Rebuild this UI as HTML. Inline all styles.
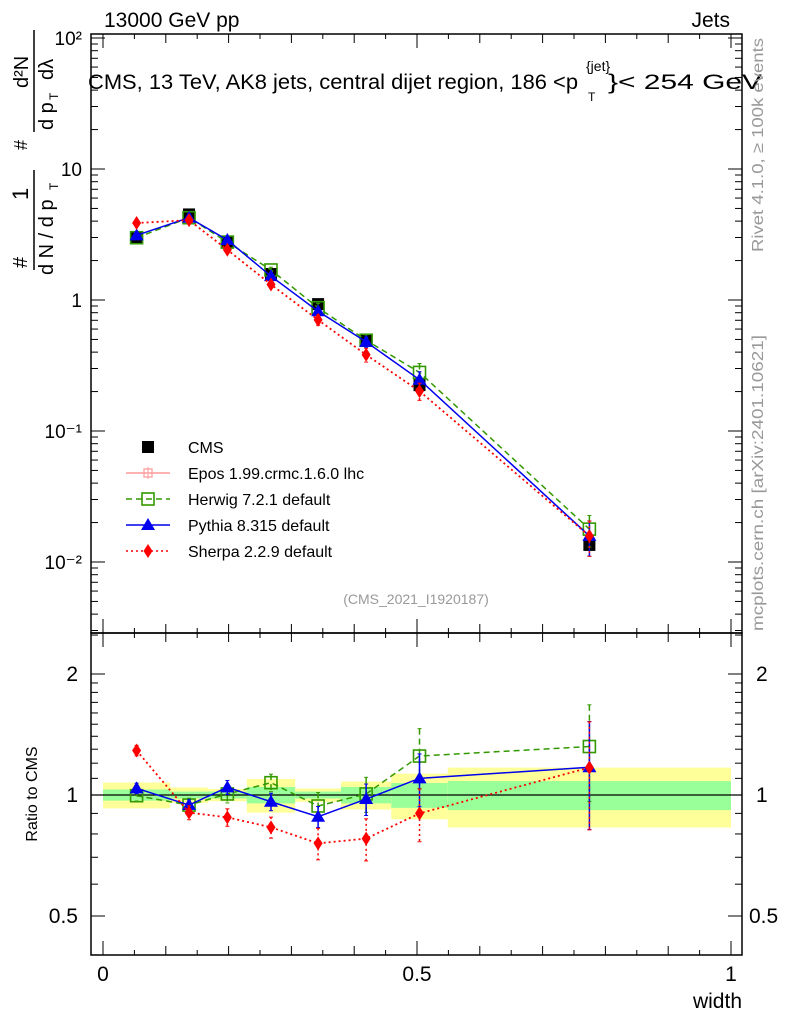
<!DOCTYPE html>
<html><head><meta charset="utf-8"><style>
html,body{margin:0;padding:0;background:#fff;}
svg text{font-family:"Liberation Sans",sans-serif;}
</style></head><body>
<svg id="c" width="786" height="1024" xmlns="http://www.w3.org/2000/svg"></svg>
<script>
const categories=[0.0535,0.137,0.198,0.2675,0.3425,0.419,0.504,0.7745];
const binEdges=[0,0.107,0.167,0.229,0.306,0.379,0.459,0.549,1.0];
const cmsValues=[3.0,4.5,2.75,1.58,0.93,0.49,0.224,0.0135];
const bandTotal=[0.074,0.044,0.035,0.096,0.038,0.080,0.13,0.17];
const bandStat=[0.032,0.02,0.02,0.047,0.02,0.047,0.071,0.083];
const herwigRatio=[0.996,0.944,1.006,1.073,0.939,1.006,1.25,1.32];
const herwigErr=[0.03,0.04,0.05,0.05,0.08,0.10,0.17,0.27];
const pythiaRatio=[1.039,0.944,1.045,0.962,0.883,0.977,1.10,1.172];
const pythiaErr=[0.03,0.03,0.04,0.05,0.06,0.09,0.15,0.3];
const sherpaRatio=[1.29,0.904,0.88,0.831,0.758,0.779,0.90,1.17];
const sherpaErr=[0.03,0.04,0.05,0.06,0.09,0.12,0.15,0.3];
const yTicksMain=["10\u207B\u00B2","10\u207B\u00B9","1","10","10\u00B2"];
const xTickLabels=["0","0.5","1"];

const S=document.getElementById('c');const NS="http://www.w3.org/2000/svg";
function el(t,a,p){const e=document.createElementNS(NS,t);for(const k in a)e.setAttribute(k,a[k]);(p||S).appendChild(e);return e;}
const L=91,R=742,T=34,M=633,B=955;
const xs=v=>103+628*v;
const ym=v=>300-131*Math.log10(v);
const yr=v=>795-121*Math.log2(v);

for(let i=0;i<categories.length;i++){
  const x0=xs(binEdges[i]),x1=xs(binEdges[i+1]);
  let r=el('rect',{x:x0,y:yr(1+bandTotal[i]),width:x1-x0,height:yr(1-bandTotal[i])-yr(1+bandTotal[i]),fill:'#ffff99'});
  
  r=el('rect',{x:x0,y:yr(1+bandStat[i]),width:x1-x0,height:yr(1-bandStat[i])-yr(1+bandStat[i]),fill:'#99ff99'});
  
}
el('line',{x1:L,x2:R,y1:795,y2:795,stroke:'#000','stroke-width':1.3});

let f=el('rect',{x:L,y:T,width:R-L,height:M-T,fill:'none',stroke:'#000','stroke-width':1.5});

f=el('rect',{x:L,y:M,width:R-L,height:B-M,fill:'none',stroke:'#000','stroke-width':1.5});


for(let k=0;k<=20;k++){const v=k*0.05,x=xs(v);const len=(k%10==0)?14:(k%2==0?9:5);
 [[T,1],[M,-1],[M,1],[B,-1]].forEach(([y,d])=>el('line',{x1:x,x2:x,y1:y,y2:y+d*len,stroke:'#000'}));}
xTickLabels.forEach((t,i)=>{const e=el('text',{x:xs(i*0.5),y:981,'font-size':21,'text-anchor':'middle'});e.textContent=t;
 });
let xt=el('text',{x:742,y:1008,'font-size':21,'text-anchor':'end'});xt.textContent='width';


for(let d=-3;d<=2;d++){for(let m=1;m<10;m++){const v=m*Math.pow(10,d),y=ym(v);if(y<T||y>M)continue;const len=m==1?14:7;
 el('line',{x1:L,x2:L+len,y1:y,y2:y,stroke:'#000'});el('line',{x1:R,x2:R-len,y1:y,y2:y,stroke:'#000'});}}
yTicksMain.forEach((t,i)=>{const e=el('text',{x:82,y:ym(Math.pow(10,i-2))+7,'font-size':19,'text-anchor':'end'});e.textContent=t;
 });
[0.4,0.5,0.6,0.7,0.8,0.9,1,1.1,1.2,1.3,1.4,1.5,1.6,1.7,1.8,1.9,2,2.5].forEach(v=>{const y=yr(v);if(y<M||y>B)return;const len=(v==0.5||v==1||v==2)?14:7;
 el('line',{x1:L,x2:L+len,y1:y,y2:y,stroke:'#000'});el('line',{x1:R,x2:R-len,y1:y,y2:y,stroke:'#000'});});
[["2",2,756],["1",1,756],["0.5",0.5,749]].forEach(([t,v,xr])=>{let e=el('text',{x:78,y:yr(v)+7,'font-size':21,'text-anchor':'end'});e.textContent=t;
 
 e=el('text',{x:xr,y:yr(v)+7,'font-size':21});e.textContent=t;
 });

function marker(type,x,y,col,g){
 if(type=='sq')el('rect',{x:x-6,y:y-6,width:12,height:12,fill:'none',stroke:col,'stroke-width':1.6},g);
 else if(type=='tri')el('polygon',{points:`${x},${y-7} ${x-7},${y+5} ${x+7},${y+5}`,fill:col},g);
 else if(type=='dia')el('polygon',{points:`${x},${y-7} ${x-4.5},${y} ${x},${y+7} ${x+4.5},${y}`,fill:col},g);
 else if(type=='box')el('rect',{x:x-6,y:y-6,width:12,height:12,fill:col},g);
 else if(type=='cross'){el('rect',{x:x-4,y:y-4,width:8,height:8,fill:'none',stroke:col,'stroke-width':1.2},g);el('line',{x1:x-6,x2:x+6,y1:y,y2:y,stroke:col},g);el('line',{x1:x,x2:x,y1:y-6,y2:y+6,stroke:col},g);}
}
function series(name,ratio,err,col,dash,type,width){
 [[ym,i=>cmsValues[i]],[yr,i=>1]].forEach(([yf,base])=>{
  const g=el('g',{});
  const pts=categories.map((c,i)=>[xs(c),yf(base(i)*ratio[i])]);
  el('polyline',{points:pts.map(p=>p.join(',')).join(' '),fill:'none',stroke:col,'stroke-width':width,'stroke-dasharray':dash},g);
  categories.forEach((c,i)=>{const x=xs(c),v=base(i)*ratio[i];const y1=yf(v*(1+err[i])),y2=yf(v*(1-err[i]));
   el('line',{x1:x,x2:x,y1:y1,y2:y2,stroke:col,'stroke-width':1.5,'stroke-dasharray':dash},g);
   el('line',{x1:x-2,x2:x+2,y1:y1,y2:y1,stroke:col},g);el('line',{x1:x-2,x2:x+2,y1:y2,y2:y2,stroke:col},g);
   const m=el('g',{},g);
   marker(type,x,yf(v),col,m);});
 });
}
categories.forEach((c,i)=>{const g=el('g',{});marker('box',xs(c),ym(cmsValues[i]),'#000',g);});
series('herwig',herwigRatio,herwigErr,'#339900','6,4','sq',1.5);
series('pythia',pythiaRatio,pythiaErr,'#0000ee','none','tri',1.5);
series('sherpa',sherpaRatio,sherpaErr,'#ff0000','2,3','dia',1.8);

const leg=[['CMS','#000','none','box'],['Epos 1.99.crmc.1.6.0 lhc','#ff9999','none','cross'],['Herwig 7.2.1 default','#339900','6,4','sq'],['Pythia 8.315 default','#0000ee','none','tri'],['Sherpa 2.2.9 default','#ff0000','2,3','dia']];
leg.forEach((l,i)=>{const y=447+26*i;const g=el('g',{});
 if(i>0)el('line',{x1:126,x2:170,y1:y,y2:y,stroke:l[1],'stroke-width':1.5,'stroke-dasharray':l[2]},g);
 marker(l[3],148,y,l[1],g);
 const t=el('text',{x:188,y:y+6,'font-size':16},g);t.textContent=l[0];});

function txt(s,a,name){const e=el('text',a);e.textContent=s;return e;}
txt('13000 GeV pp',{x:104,y:27,'font-size':21},'header-left');
txt('Jets',{x:730,y:27,'font-size':21,'text-anchor':'end'},'header-right');
txt('CMS, 13 TeV, AK8 jets, central dijet region, 186 <p',{x:88,y:89,'font-size':21,textLength:490,lengthAdjust:'spacingAndGlyphs'},'plot-title');
txt('{jet}',{x:586,y:71,'font-size':14},'title-sup');
txt('T',{x:588,y:101,'font-size':12},'title-sub');
txt('}< 254 GeV',{x:608,y:89,'font-size':21,textLength:154,lengthAdjust:'spacingAndGlyphs'},'title-end');
txt('(CMS_2021_I1920187)',{x:416,y:604,'font-size':14,fill:'#999','text-anchor':'middle'},'analysis-id');
txt('Rivet 4.1.0, \u2265 100k events',{x:0,y:0,'font-size':16,fill:'#999','text-anchor':'middle',textLength:214,lengthAdjust:'spacingAndGlyphs',transform:'translate(763,145) rotate(-90)'},'rivet-label');
txt('mcplots.cern.ch [arXiv:2401.10621]',{x:0,y:0,'font-size':16,fill:'#999','text-anchor':'middle',textLength:296,lengthAdjust:'spacingAndGlyphs',transform:'translate(763,483) rotate(-90)'},'mcplots-label');
txt('Ratio to CMS',{x:0,y:0,'font-size':16,'text-anchor':'middle',transform:'translate(37,794) rotate(-90)'},'ratio-y-title');
const yg=el('g',{transform:'rotate(-90)'});
[['#',-268,27,20],['1',-200,28,22],['d N / d p',-275,53,20],['T',-190,58,12],['#',-150,27,18],['d p',-130,53,20],['T',-100,58,12],['d\u00B2N',-88,28,20],['d\u03BB',-80,53,20]].forEach(([s,x,y,fs])=>{const t=el('text',{x:x,y:y,'font-size':fs},yg);t.textContent=s;});
el('line',{x1:-270,x2:-170,y1:34,y2:34,stroke:'#000','stroke-width':1.5},yg);
el('line',{x1:-132,x2:-30,y1:34,y2:34,stroke:'#000','stroke-width':1.5},yg);
</script>
</body></html>
